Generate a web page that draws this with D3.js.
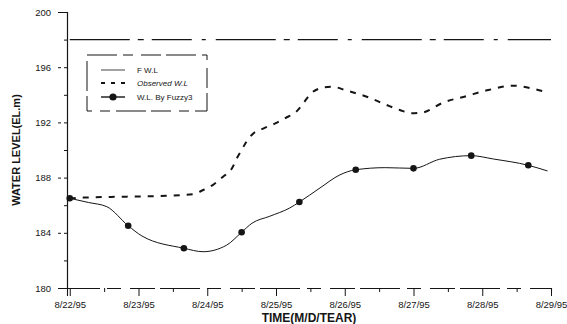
<!DOCTYPE html>
<html><head><meta charset="utf-8">
<script src="https://cdn.jsdelivr.net/npm/d3@7"></script>
<style>
body{margin:0;background:#fff;}
svg{display:block;font-family:"Liberation Sans",Arial,sans-serif;}
</style></head>
<body><svg id="c" width="567" height="324"></svg>
<script>
// ---- data ----
const xTickLabels = ["8/22/95","8/23/95","8/24/95","8/25/95","8/26/95","8/27/95","8/28/95","8/29/95"];
const yTickValues = [180,184,188,192,196,200];
const yMinorValues = [182,186,190,194,198];
const fwlDays = [0,7];
const fwlValues = [198,198];
const obsDays = [0,0.2,0.83,1.46,1.8,1.94,2.08,2.23,2.36,2.43,2.5,2.57,2.67,2.82,2.99,3.13,3.3,3.4,3.49,3.64,3.81,4.03,4.32,4.61,4.8,4.97,5.12,5.43,5.77,6.09,6.45,6.77,6.95];
const obsValues = [186.5,186.55,186.62,186.69,186.81,187.1,187.46,188.07,188.67,189.4,190.0,190.6,191.2,191.57,191.93,192.3,192.8,193.4,194.0,194.47,194.59,194.3,193.86,193.26,192.9,192.66,192.7,193.43,193.91,194.35,194.66,194.4,194.18];
const fuzDays = [0,0.27,0.54,0.85,1.05,1.66,1.94,2.28,2.5,2.65,2.91,3.2,3.34,3.64,3.93,4.16,4.59,5.0,5.38,5.84,6.16,6.67,6.95];
const fuzValues = [186.5,186.2,185.89,184.51,183.77,182.88,182.63,183.1,184.04,184.69,185.2,185.8,186.23,187.25,188.2,188.57,188.72,188.67,189.33,189.59,189.35,188.89,188.48];
const dotDays = [0,0.85,1.66,2.5,3.34,4.16,5.0,5.84,6.67];
const dotValues = [186.5,184.51,182.88,184.04,186.23,188.57,188.67,189.59,188.89];
const legendLabels = ["F W.L","Observed W.L","W.L. By Fuzzy3"];

// ---- chart ----
const svg = d3.select("#c");
const ink = "#151515";
const x = d3.scaleLinear().domain([-0.04,7]).range([67,551]);
const y = d3.scaleLinear().domain([180,200]).range([288,12]);

// y axis
const yAx = svg.append("g").attr("transform","translate(67,0)")
  .call(d3.axisLeft(y).tickValues(yTickValues).tickFormat(d3.format("d")).tickSize(9).tickPadding(7));
yAx.select(".domain").attr("stroke",ink).attr("stroke-width",1.2);
yAx.selectAll(".tick line").attr("stroke",ink).attr("stroke-dasharray","3,3");
yAx.selectAll(".tick text").attr("font-size",9.5).attr("fill",ink);
svg.append("g").attr("transform","translate(67,0)")
  .call(d3.axisLeft(y).tickValues(yMinorValues).tickFormat("").tickSize(3))
  .call(g=>g.select(".domain").remove())
  .selectAll("line").attr("stroke",ink);

// x axis
const dayTicks = d3.range(xTickLabels.length);
const xAx = svg.append("g").attr("transform","translate(0,288)")
  .call(d3.axisBottom(x).tickValues(dayTicks).tickFormat(i=>xTickLabels[i]).tickSize(8).tickPadding(5));
xAx.select(".domain").attr("stroke",ink).attr("stroke-width",1.1).attr("stroke-dasharray","40,7,14,9,25,5");
xAx.selectAll(".tick line").attr("stroke",ink);
xAx.selectAll(".tick text").attr("font-size",9.5).attr("fill",ink);
svg.append("g").attr("transform","translate(0,288)")
  .call(d3.axisBottom(x).tickValues(dayTicks.slice(0,-1).map(d=>d+0.5)).tickFormat("").tickSize(4))
  .call(g=>g.select(".domain").remove())
  .selectAll("line").attr("stroke",ink);

// FWL line
const fwl = fwlDays.map((d,i)=>({d,v:fwlValues[i]}));
svg.append("path").datum(fwl)
  .attr("d",d3.line().x(p=>x(p.d)).y(p=>y(p.v)))
  .attr("fill","none").attr("stroke",ink).attr("stroke-width",1.1)
  .attr("stroke-dasharray","60,8,6,8,40,10,4,10");

// Observed
const obs = obsDays.map((d,i)=>({d,v:obsValues[i]}));
svg.append("path").datum(obs)
  .attr("d",d3.line().curve(d3.curveMonotoneX).x(p=>x(p.d)).y(p=>y(p.v)))
  .attr("fill","none").attr("stroke",ink).attr("stroke-width",2)
  .attr("stroke-dasharray","6,7");

// Fuzzy3
const fuz = fuzDays.map((d,i)=>({d,v:fuzValues[i]}));
svg.append("path").datum(fuz)
  .attr("d",d3.line().curve(d3.curveMonotoneX).x(p=>x(p.d)).y(p=>y(p.v)))
  .attr("fill","none").attr("stroke",ink).attr("stroke-width",1);
const dots = dotDays.map((d,i)=>({d,v:dotValues[i]}));
svg.append("g").selectAll("circle").data(dots).join("circle")
  .attr("cx",p=>x(p.d)).attr("cy",p=>y(p.v)).attr("r",3.3).attr("fill",ink);

// legend
const lg = svg.append("g");
lg.append("rect").attr("x",87).attr("y",55).attr("width",120).attr("height",56)
  .attr("fill","none").attr("stroke",ink).attr("stroke-width",1)
  .attr("stroke-dasharray","30,6,10,8,20,5");
const ly = [70,83,97];
lg.append("line").attr("x1",101).attr("x2",125).attr("y1",ly[0]).attr("y2",ly[0]).attr("stroke",ink).attr("stroke-width",0.8);
lg.append("line").attr("x1",101).attr("x2",125).attr("y1",ly[1]).attr("y2",ly[1]).attr("stroke",ink).attr("stroke-width",2).attr("stroke-dasharray","4,6");
lg.append("line").attr("x1",101).attr("x2",125).attr("y1",ly[2]).attr("y2",ly[2]).attr("stroke",ink).attr("stroke-width",1.4);
lg.append("circle").attr("cx",113).attr("cy",ly[2]).attr("r",3.6).attr("fill",ink);
legendLabels.forEach((t,i)=>{
  lg.append("text").attr("x",137).attr("y",ly[i]+3).attr("font-size",8)
    .attr("font-style",i===1?"italic":"normal").attr("fill",ink).text(t);
});

// axis titles
svg.append("text").attr("x",309).attr("y",322).attr("text-anchor","middle")
  .attr("font-size",12).attr("font-weight","bold").attr("fill",ink).text("TIME(M/D/TEAR)");
svg.append("text").attr("transform","translate(20,150) rotate(-90)").attr("text-anchor","middle")
  .attr("font-size",11).attr("font-weight","bold").attr("fill",ink).text("WATER LEVEL(EL.m)");
</script></body></html>
